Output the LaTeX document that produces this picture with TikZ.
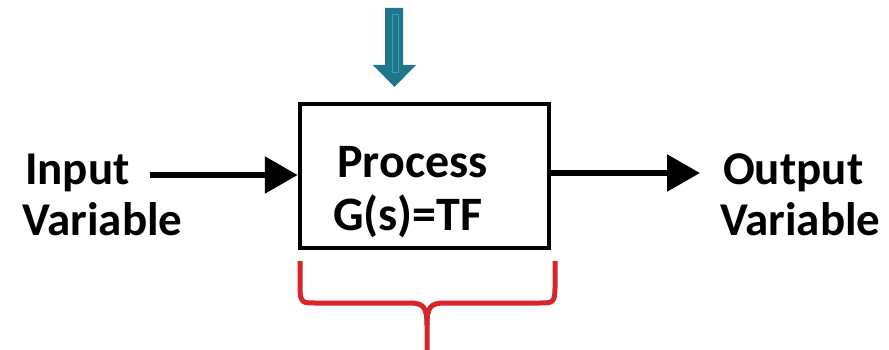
\documentclass[tikz,border=0pt]{standalone}
\usepackage{fontspec}
\setmainfont{Carlito}
\usetikzlibrary{arrows.meta}
\definecolor{teal1}{HTML}{20768A}
\definecolor{teal2}{HTML}{3C9DB3}
\definecolor{bracered}{HTML}{D7262B}
\begin{document}
\begin{tikzpicture}[x=1pt,y=-1pt,
  lbl/.style={anchor=base west,inner sep=0pt,font=\fontsize{47}{56}\selectfont\bfseries},
  proclbl/.style={anchor=base west,inner sep=0pt,font=\fontsize{48}{56}\selectfont\bfseries},
  procbox/.style={draw,line width=4.5pt,minimum width=249pt,minimum height=144pt,inner sep=0pt},
  flow/.style={line width=5.5pt,-{Triangle[length=33pt,width=36pt]}},
  brace/.style={draw=bracered,line width=5pt}]
\useasboundingbox (0,0) rectangle (889,350);
\node[procbox] (proc) at (424.5,176) {};
\node[proclbl] (ptxt) at (337,177) {Process};
\node[proclbl] (gtxt) at (333,230) {G(s)=TF};
\node[lbl] (in1) at (25,185) {Input};
\node[lbl] (in2) at (22,235) {Variable};
\node[lbl] (out1) at (723,185) {Output};
\node[lbl] (out2) at (720,235) {Variable};
\coordinate (inA) at (150,175);
\coordinate (outB) at (700,173);
\draw[flow] (inA) -- (proc.west |- inA);
\draw[flow] (proc.east |- outB) -- (outB);
% top disturbance arrow
\fill[teal1] (385,8) -- (403,8) -- (403,65) -- (416,65) -- (394.5,87) -- (373,65) -- (385,65) -- cycle;
\draw[teal2,line width=1pt] (392,15) rectangle (398,73);
% brace
\draw[brace] (300,261) -- (300,288) .. controls (300,303) and (303,303) .. (315,303) -- (410,303) .. controls (424,303) and (427,308) .. (427,325) -- (427,352);
\draw[brace] (555,261) -- (555,288) .. controls (555,303) and (552,303) .. (540,303) -- (444,303) .. controls (430,303) and (427,308) .. (427,325);
\end{tikzpicture}
\end{document}
